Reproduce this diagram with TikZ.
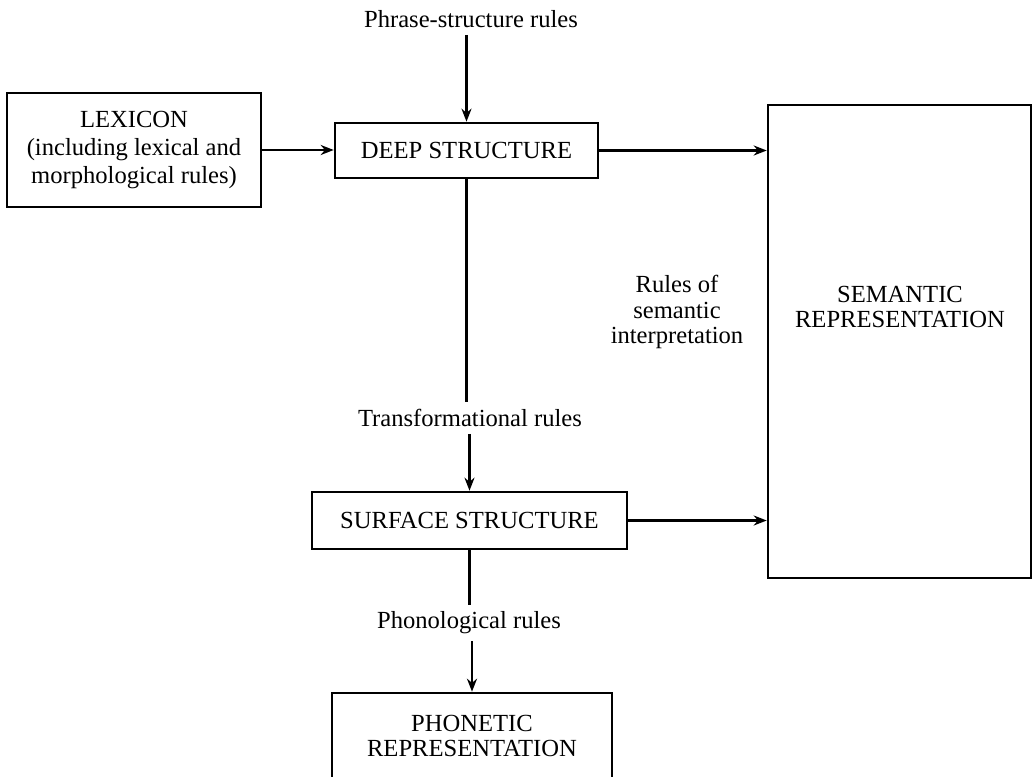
\documentclass[tikz,border=0pt]{standalone}
\usepackage{fontspec}
\setmainfont{Liberation Serif}
\usetikzlibrary{arrows.meta}

\begin{document}
\begin{tikzpicture}[x=0.02cm, y=-0.02cm, line width=1.5pt,
  font=\fontsize{14}{16}\selectfont,
  box/.style={draw, align=center, inner sep=0pt},
  >={Stealth[length=2.6mm, width=2mm]}]
\clip (0,0) rectangle (1032,777);
% boxes
\node[box, minimum width=5.08cm, minimum height=2.28cm] (lex) at (134,150) {LEXICON\\(including lexical and\\morphological rules)};
\node[box, minimum width=5.26cm, minimum height=1.1cm] (deep) at (466.5,150.5) {DEEP STRUCTURE};
\node[box, minimum width=5.26cm, minimum height=9.46cm] (sem) at (899.5,341.5) {};
\node[align=center, font=\fontsize{14}{14.5}\selectfont] (semtext) at (900,307) {SEMANTIC\\REPRESENTATION};
\node[box, minimum width=6.3cm, minimum height=1.14cm] (surf) at (469.5,520.5) {SURFACE STRUCTURE};
\node[box, minimum width=5.6cm, minimum height=1.72cm, font=\fontsize{14}{14.5}\selectfont] (phon) at (472,736) {PHONETIC\\REPRESENTATION};
% rule labels
\node (psr) at (471,19) {Phrase-structure rules};
\node (tr) at (470,418) {Transformational rules};
\node (pr) at (469,623) {Phonological rules};
\node[align=center, font=\fontsize{14}{14.5}\selectfont] (rsi) at (677,312) {Rules of\\semantic\\interpretation};
% connectors
\draw[->] (psr.south -| deep.north) -- (deep.north);
\draw[->] (lex.east) -- (lex.east -| deep.west);
\draw[->] (deep.east) -- (deep.east -| sem.west);
\draw (deep.south) -- (deep.south |- tr.north);
\draw[->] (tr.south -| surf.north) -- (surf.north);
\draw[->] (surf.east) -- (surf.east -| sem.west);
\draw (surf.south) -- (surf.south |- pr.north);
\draw[->] (pr.south -| phon.north) -- (phon.north);
\end{tikzpicture}
\end{document}
